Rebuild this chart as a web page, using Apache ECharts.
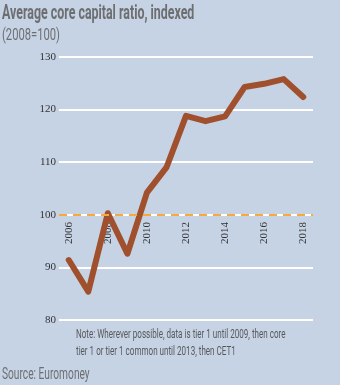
<!DOCTYPE html>
<html>
<head>
<meta charset="utf-8">
<script src="https://cdn.jsdelivr.net/npm/echarts@6/dist/echarts.min.js"></script>
<style>
  html, body { margin: 0; padding: 0; background: #c6d3e5; }
  #chart { width: 340px; height: 385px; }
</style>
</head>
<body>
<div id="chart"></div>
<script>
// years and the indexed ratio (2008 = 100)
const years = ['2006', '2007', '2008', '2009', '2010', '2011', '2012', '2013', '2014', '2015', '2016', '2017', '2018']
const ratio = [91.4, 85.4, 100.3, 92.6, 104.2, 109.0, 118.8, 117.8, 118.7, 124.3, 124.9, 125.8, 122.4]
const baseline = 100

const titleText = 'Average core capital ratio, indexed'
const subText = '(2008=100)'
const noteLines = ['Note: Wherever possible, data is tier 1 until 2009, then core', 'tier 1 or tier 1 common until 2013, then CET1']
const sourceText = 'Source: Euromoney'

const font = 'Roboto, "Liberation Sans", sans-serif'

// condensed-looking label: real text squeezed horizontally
function label (text, x, y, size, weight, color, squeeze) {
  return {
    type: 'text',
    x: x, y: y,
    scaleX: squeeze,
    style: {
      text: text,
      fontFamily: font,
      fontSize: size,
      fontWeight: weight,
      fill: color,
      textVerticalAlign: 'middle'
    }
  }
}

const chart = echarts.init(document.getElementById('chart'))
chart.setOption({
  backgroundColor: '#c6d3e5',
  animation: false,
  graphic: [
    label(titleText, 2, 14, 20, 'bold', '#6d6e70', 0.62),
    label(subText, 2, 36, 16, 'normal', '#6d6e70', 0.7),
    label(noteLines[0], 76, 335, 13, 'normal', '#58595b', 0.62),
    label(noteLines[1], 76, 352, 13, 'normal', '#58595b', 0.62),
    label(sourceText, 2, 375, 17, 'normal', '#6d6e70', 0.6)
  ],
  grid: { left: 59, right: 27, top: 57, bottom: 65 },
  xAxis: {
    type: 'category',
    data: years,
    boundaryGap: true,
    offset: -105,
    axisLine: { show: false },
    axisTick: { show: false },
    axisLabel: {
      interval: 1,
      rotate: 90,
      margin: 7,
      fontFamily: '"Liberation Serif", serif',
      fontSize: 11,
      color: '#333'
    }
  },
  yAxis: {
    type: 'value',
    min: 80, max: 130, interval: 10,
    axisLine: { show: false },
    axisTick: { show: false },
    axisLabel: { margin: 3, fontFamily: '"Liberation Serif", serif', fontSize: 11, color: '#333' },
    splitLine: { lineStyle: { color: '#ffffff', width: 2 } }
  },
  series: [
    {
      type: 'line',
      data: ratio,
      symbol: 'none',
      lineStyle: { color: '#a0502c', width: 6, cap: 'round', join: 'round' },
      markLine: {
        silent: true,
        symbol: 'none',
        label: { show: false },
        lineStyle: { color: '#f7a93b', width: 2, type: [8, 6] },
        data: [{ yAxis: baseline }]
      },
      z: 3
    }
  ]
})
</script>
</body>
</html>
